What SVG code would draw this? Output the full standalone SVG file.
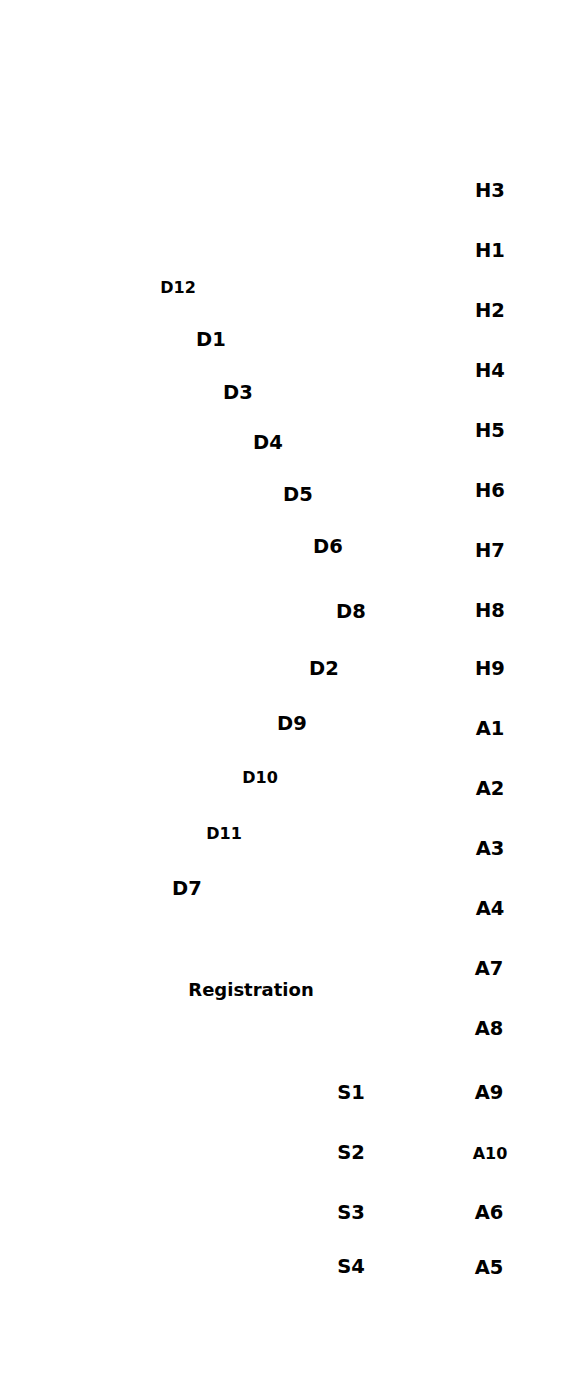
<svg xmlns="http://www.w3.org/2000/svg" width="585" height="1400" viewBox="0 0 585 1400">
<style>
text{font-family:"DejaVu Sans","Liberation Sans",sans-serif;font-weight:bold;fill:#000;text-anchor:middle;dominant-baseline:central}
.l{font-size:19.5px}
.s{font-size:16px}
.r{font-size:18px}
</style>
<rect width="585" height="1400" fill="#fff"/>
<g id="connectors"></g>
<g id="H3"><text class="l" x="490" y="190">H3</text></g>
<g id="H1"><text class="l" x="490" y="250">H1</text></g>
<g id="H2"><text class="l" x="490" y="310">H2</text></g>
<g id="H4"><text class="l" x="490" y="370">H4</text></g>
<g id="H5"><text class="l" x="490" y="430">H5</text></g>
<g id="H6"><text class="l" x="490" y="490">H6</text></g>
<g id="H7"><text class="l" x="490" y="550">H7</text></g>
<g id="H8"><text class="l" x="490" y="610">H8</text></g>
<g id="H9"><text class="l" x="490" y="668">H9</text></g>
<g id="A1"><text class="l" x="490" y="728">A1</text></g>
<g id="A2"><text class="l" x="490" y="788">A2</text></g>
<g id="A3"><text class="l" x="490" y="848">A3</text></g>
<g id="A4"><text class="l" x="490" y="908">A4</text></g>
<g id="A7"><text class="l" x="489" y="968">A7</text></g>
<g id="A8"><text class="l" x="489" y="1028">A8</text></g>
<g id="A9"><text class="l" x="489" y="1092">A9</text></g>
<g id="A10"><text class="s" x="490" y="1153">A10</text></g>
<g id="A6"><text class="l" x="489" y="1212">A6</text></g>
<g id="A5"><text class="l" x="489" y="1267">A5</text></g>
<g id="D12"><text class="s" x="178" y="287">D12</text></g>
<g id="D1"><text class="l" x="211" y="339">D1</text></g>
<g id="D3"><text class="l" x="238" y="392">D3</text></g>
<g id="D4"><text class="l" x="268" y="442">D4</text></g>
<g id="D5"><text class="l" x="298" y="494">D5</text></g>
<g id="D6"><text class="l" x="328" y="546">D6</text></g>
<g id="D8"><text class="l" x="351" y="611">D8</text></g>
<g id="D2"><text class="l" x="324" y="668">D2</text></g>
<g id="D9"><text class="l" x="292" y="723">D9</text></g>
<g id="D10"><text class="s" x="260" y="777">D10</text></g>
<g id="D11"><text class="s" x="224" y="833">D11</text></g>
<g id="D7"><text class="l" x="187" y="888">D7</text></g>
<g id="Registration"><text class="r" x="251" y="989">Registration</text></g>
<g id="S1"><text class="l" x="351" y="1092">S1</text></g>
<g id="S2"><text class="l" x="351" y="1152">S2</text></g>
<g id="S3"><text class="l" x="351" y="1212">S3</text></g>
<g id="S4"><text class="l" x="351" y="1266">S4</text></g>
</svg>
